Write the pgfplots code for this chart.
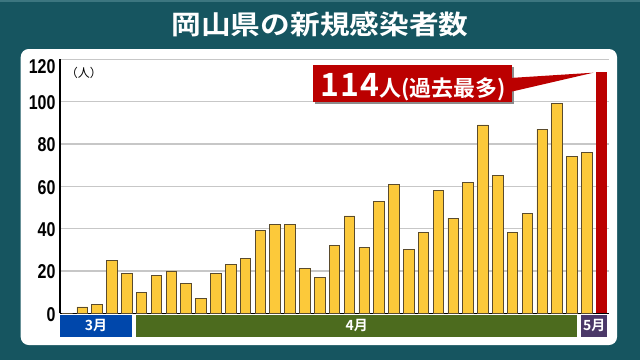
\documentclass[border=0pt]{standalone}
\usepackage{pgfplots}
\pgfplotsset{compat=1.18}
\usepackage{fontspec}
\setmainfont{Noto Sans CJK JP}[BoldFont=* Bold]
\newfontfamily\tickfont{Liberation Sans}[FakeStretch=0.8]
\newfontfamily\titlefont{Noto Sans CJK JP}[BoldFont=* Bold, FakeStretch=1.12]
\definecolor{bgteal}{RGB}{22,85,96}
\definecolor{topstripe}{RGB}{60,118,128}
\definecolor{barY}{RGB}{252,201,58}
\definecolor{barEdge}{RGB}{90,75,45}
\definecolor{redbar}{RGB}{187,0,0}
\definecolor{marBlue}{RGB}{0,71,171}
\definecolor{aprGreen}{RGB}{76,107,30}
\definecolor{mayPurple}{RGB}{75,56,104}
\begin{document}
\begin{tikzpicture}[x=1pt,y=1pt]
\useasboundingbox (0,0) rectangle (640,360);
\fill[bgteal] (0,0) rectangle (640,360);
\fill[topstripe] (0,358) rectangle (640,360);
\fill[white, rounded corners=8pt] (20.7,15) rectangle (617,311);
\node[text=white, font=\titlefont\fontsize{26.5}{26.5}\selectfont\bfseries] at (320,336) {岡山県の新規感染者数};
\begin{axis}[
  at={(60pt,46.7pt)}, anchor=south west,
  scale only axis, width=549pt, height=254pt,
  xmin=-0.5, xmax=36.5, ymin=0, ymax=120,
  axis x line=bottom, axis y line=left,
  axis line style={black, line width=1.4pt, -},
  xtick=\empty,
  ytick={0,20,40,60,80,100,120},
  yticklabels={0,20,40,60,80,100,{\raisebox{-6pt}[14.3pt][0pt]{120}}},
  yticklabel style={font=\tickfont\fontsize{20}{20}\selectfont\bfseries, xshift=-1pt, yshift=-1pt},
  major tick length=0pt,
  ymajorgrids, grid style={color=black!22, line width=1.3pt},
  clip=false,
]
\addplot[ybar, bar shift=0pt, bar width=0.71, fill=barY, draw=barEdge, line width=0.8pt] coordinates {
(0,0) (1,3) (2,4) (3,25) (4,19)
(5,10) (6,18) (7,20) (8,14) (9,7) (10,19) (11,23) (12,26) (13,39) (14,42)
(15,42) (16,21) (17,17) (18,32) (19,46) (20,31) (21,53) (22,61) (23,30) (24,38)
(25,58) (26,45) (27,62) (28,89) (29,65) (30,38) (31,47) (32,87) (33,99) (34,74)
(35,76)
};
\addplot[ybar, bar shift=0pt, bar width=0.71, fill=redbar, draw=none] coordinates {(36,114)};
\fill[marBlue] (axis cs:-0.5,-0.6) rectangle (axis cs:4.37,-11.05);
\fill[aprGreen] (axis cs:4.62,-0.6) rectangle (axis cs:34.37,-11.05);
\fill[mayPurple] (axis cs:34.63,-0.6) rectangle (axis cs:36.38,-11.05);
\node[text=white, font=\fontsize{14}{14}\selectfont\bfseries] at (axis cs:1.93,-5.9) {3月};
\node[text=white, font=\fontsize{14}{14}\selectfont\bfseries] at (axis cs:19.5,-5.9) {4月};
\node[text=white, font=\fontsize{14}{14}\selectfont\bfseries] at (axis cs:35.5,-5.9) {5月};
\node[anchor=west, font=\fontsize{12}{12}\selectfont] at (axis cs:-0.35,113.5) {（人）};
\end{axis}
% callout
\fill[black!45] (314.7,256.3) rectangle (513.7,293);
\fill[redbar] (312.7,258.3) rectangle (511.7,295);
\fill[redbar] (510,282) -- (593.3,287.3) -- (510,268) -- cycle;
\node[anchor=base west, text=white, inner sep=0pt] at (320.5,263.5)
  {\bfseries{\fontsize{32}{32}\selectfont 1\kern1pt1\kern1pt4}{\fontsize{22}{22}\selectfont 人(過去最多)}};
\end{tikzpicture}
\end{document}
